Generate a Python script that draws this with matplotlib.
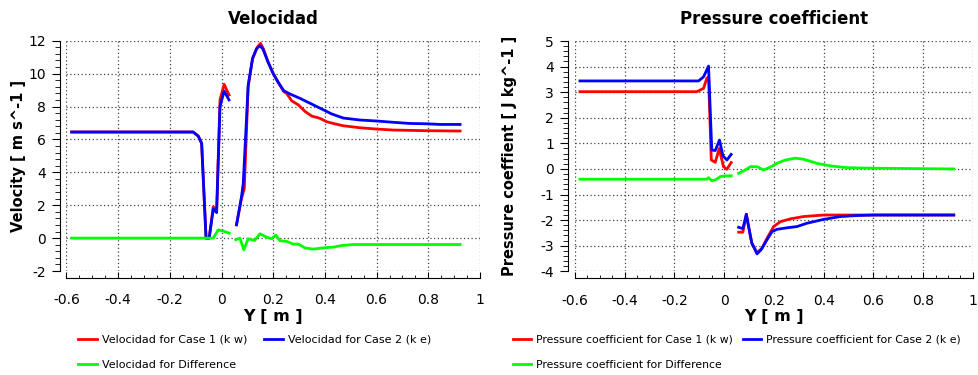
#!/usr/bin/env python3
"""
Velocity and pressure coefficient profiles along Y for two turbulence
models (k-w and k-e) plus their difference.
"""

import numpy as np
import matplotlib
matplotlib.use("Agg")
import matplotlib.pyplot as plt
from matplotlib.ticker import MultipleLocator

nan = np.nan

# Velocidad - Case 1 (k w)
vel_case1_y = [-0.58, -0.11, -0.09, -0.077, -0.06, -0.048, -0.032, -0.019, -0.006, 0.01, 0.029, nan,
               0.058, 0.077, 0.088, 0.103, 0.12, 0.138, 0.151, 0.162, 0.18, 0.2, 0.22, 0.241, 0.252,
               0.271, 0.297, 0.323, 0.349, 0.381, 0.406, 0.432, 0.471, 0.535, 0.6, 0.665, 0.794, 0.923]
vel_case1 = [6.45, 6.45, 6.2, 5.76, 0.0, 0.0, 1.9, 1.7, 8.4, 9.35, 8.7, nan,
             0.85, 2.4, 3.0, 9.2, 10.9, 11.6, 11.84, 11.5, 10.7, 10.0, 9.45, 8.9, 8.8,
             8.35, 8.1, 7.7, 7.42, 7.28, 7.08, 6.97, 6.83, 6.71, 6.63, 6.57, 6.53, 6.51]

# Velocidad - Case 2 (k e)
vel_case2_y = [-0.58, -0.11, -0.09, -0.077, -0.06, -0.048, -0.032, -0.019, -0.006, 0.01, 0.029, nan,
               0.058, 0.077, 0.084, 0.103, 0.12, 0.135, 0.148, 0.16, 0.18, 0.2, 0.22, 0.241, 0.265,
               0.303, 0.342, 0.394, 0.426, 0.471, 0.535, 0.6, 0.665, 0.729, 0.794, 0.845, 0.923]
vel_case2 = [6.45, 6.45, 6.2, 5.76, 0.0, 0.0, 1.77, 1.55, 8.0, 8.94, 8.4, nan,
             0.8, 2.5, 3.33, 9.3, 10.93, 11.5, 11.7, 11.5, 10.7, 10.0, 9.45, 8.96, 8.76,
             8.5, 8.2, 7.8, 7.55, 7.3, 7.18, 7.12, 7.04, 6.97, 6.95, 6.91, 6.91]

# Velocidad - Difference
vel_diff_y = [-0.58, -0.032, -0.013, 0.006, 0.03, nan, 0.055, 0.071, 0.086, 0.103, 0.129, 0.148,
              0.174, 0.194, 0.21, 0.226, 0.252, 0.277, 0.297, 0.323, 0.355, 0.394, 0.432, 0.465,
              0.51, 0.923]
vel_diff = [0.0, 0.0, 0.5, 0.43, 0.3, nan, -0.1, 0.0, -0.71, -0.04, -0.14, 0.26,
            0.06, -0.04, 0.18, -0.16, -0.2, -0.36, -0.36, -0.6, -0.67, -0.59, -0.55, -0.45,
            -0.39, -0.39]

# Pressure coefficient - Case 1 (k w)
cp_case1_y = [-0.58, -0.11, -0.083, -0.07, -0.063, -0.052, -0.036, -0.02, -0.003, 0.011, 0.028, nan,
              0.058, 0.075, 0.089, 0.098, 0.111, 0.132, 0.152, 0.172, 0.199, 0.226, 0.266, 0.319,
              0.4, 0.601, 0.923]
cp_case1 = [3.02, 3.02, 3.15, 3.54, 3.6, 0.35, 0.26, 0.8, 0.09, -0.01, 0.25, nan,
            -2.47, -2.47, -1.77, -2.25, -2.9, -3.27, -3.1, -2.71, -2.25, -2.06, -1.95, -1.86,
            -1.8, -1.8, -1.8]

# Pressure coefficient - Case 2 (k e)
cp_case2_y = [-0.58, -0.103, -0.083, -0.07, -0.063, -0.05, -0.036, -0.019, -0.005, 0.011, 0.028, nan,
              0.058, 0.075, 0.089, 0.098, 0.111, 0.132, 0.148, 0.172, 0.192, 0.212, 0.252, 0.293,
              0.333, 0.4, 0.467, 0.534, 0.601, 0.923]
cp_case2 = [3.44, 3.44, 3.6, 3.87, 4.02, 0.74, 0.72, 1.13, 0.51, 0.35, 0.57, nan,
            -2.28, -2.33, -1.77, -2.25, -2.9, -3.32, -3.16, -2.77, -2.45, -2.36, -2.3, -2.25,
            -2.12, -1.97, -1.86, -1.82, -1.8, -1.8]

# Pressure coefficient - Difference
cp_diff_y = [-0.58, -0.07, -0.063, -0.05, -0.036, -0.016, 0.004, 0.028, nan,
             0.058, 0.085, 0.105, 0.132, 0.158, 0.185, 0.212, 0.246, 0.286, 0.319, 0.373,
             0.427, 0.494, 0.601, 0.923]
cp_diff = [-0.4, -0.4, -0.34, -0.46, -0.43, -0.3, -0.27, -0.27, nan,
           -0.17, -0.04, 0.09, 0.09, -0.04, 0.07, 0.22, 0.35, 0.42, 0.38, 0.22,
           0.12, 0.05, 0.03, 0.0]

plt.rcParams['axes.unicode_minus'] = False
plt.rcParams['font.family'] = 'DejaVu Sans'


def style_axes(ax, ylim, ymajor, yminor):
    """Offset spines, dotted grid, in/out ticks like the original tool"""
    ax.set_xlim(-0.6, 1.0)
    ax.set_ylim(*ylim)
    ax.xaxis.set_major_locator(MultipleLocator(0.2))
    ax.xaxis.set_minor_locator(MultipleLocator(0.05))
    ax.yaxis.set_major_locator(MultipleLocator(ymajor))
    ax.yaxis.set_minor_locator(MultipleLocator(yminor))
    ax.xaxis.set_major_formatter(plt.FuncFormatter(lambda v, p: f'{v:g}'))

    for side in ('top', 'right'):
        ax.spines[side].set_visible(False)
    ax.spines['left'].set_position(('outward', 5))
    ax.spines['bottom'].set_position(('outward', 5))
    ax.spines['left'].set_bounds(*ylim)
    ax.spines['bottom'].set_bounds(-0.6, 1.0)

    ax.tick_params(axis='y', which='major', direction='out', length=6, pad=4, labelsize=10)
    ax.tick_params(axis='y', which='minor', direction='out', length=3.5)
    ax.tick_params(axis='x', which='major', direction='in', length=4, pad=11, labelsize=10)
    ax.tick_params(axis='x', which='minor', direction='in', length=2.5)

    ax.grid(True, which='major', linestyle=(0, (1, 2)), color='#444444', linewidth=0.9)
    ax.set_axisbelow(True)


fig = plt.figure(figsize=(9.79, 3.75), dpi=100)
ax1 = fig.add_axes([0.0679, 0.2773, 0.4224, 0.6141])
ax2 = fig.add_axes([0.5873, 0.2765, 0.4065, 0.6141])

# Velocity panel
l1, = ax1.plot(vel_case1_y, vel_case1, color='#ff0000', lw=2, label='Velocidad for Case 1 (k w)')
l2, = ax1.plot(vel_case2_y, vel_case2, color='#0000ff', lw=2, label='Velocidad for Case 2 (k e)')
l3, = ax1.plot(vel_diff_y, vel_diff, color='#00ff00', lw=2, label='Velocidad for Difference')
style_axes(ax1, (-2, 12), 2, 0.4)
ax1.set_title('Velocidad', fontsize=12, fontweight='bold', pad=12)
ax1.set_ylabel('Velocity [ m s^-1 ]', fontsize=10.5, fontweight='bold')
ax1.yaxis.set_label_coords(-0.098, 0.5)
ax1.set_xlabel('Y [ m ]', fontsize=11.5, fontweight='bold')
ax1.xaxis.set_label_coords(0.5, -0.165)

# Pressure coefficient panel
p1, = ax2.plot(cp_case1_y, cp_case1, color='#ff0000', lw=2, label='Pressure coefficient for Case 1 (k w)')
p2, = ax2.plot(cp_case2_y, cp_case2, color='#0000ff', lw=2, label='Pressure coefficient for Case 2 (k e)')
p3, = ax2.plot(cp_diff_y, cp_diff, color='#00ff00', lw=2, label='Pressure coefficient for Difference')
style_axes(ax2, (-4, 5), 1, 0.2)
ax2.set_title('Pressure coefficient', fontsize=12, fontweight='bold', pad=12)
ax2.set_ylabel('Pressure coeffient [ J kg^-1 ]', fontsize=10.5, fontweight='bold')
ax2.yaxis.set_label_coords(-0.146, 0.5)
ax2.set_xlabel('Y [ m ]', fontsize=11.5, fontweight='bold')
ax2.xaxis.set_label_coords(0.5, -0.165)

# Legends below each panel (column-wise fill -> order c1, diff, c2)
legend_kw = dict(ncol=2, frameon=False, fontsize=8, handlelength=1.7, handletextpad=0.45,
                 labelspacing=1.35, borderpad=0, borderaxespad=0, loc='upper left')
fig.legend(handles=[l1, l3, l2], bbox_to_anchor=(0.0797, 0.107), columnspacing=1.5, **legend_kw)
fig.legend(handles=[p1, p3, p2], bbox_to_anchor=(0.524, 0.107), columnspacing=0.9,
           **{**legend_kw, 'fontsize': 7.8})

fig.savefig('out.png', dpi=100)
plt.close(fig)
